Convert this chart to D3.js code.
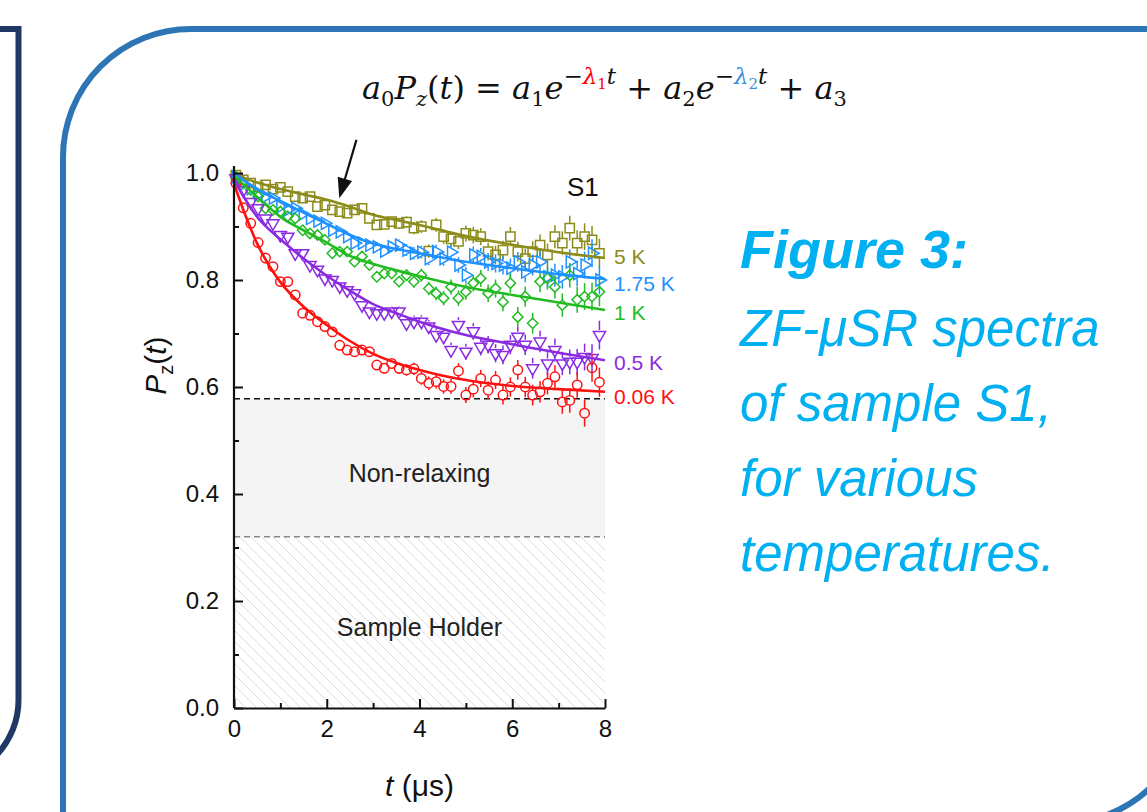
<!DOCTYPE html>
<html>
<head>
<meta charset="utf-8">
<script src="https://cdn.jsdelivr.net/npm/d3@7"></script>
<style>
  body { margin: 0; background: #fff; }
  svg { display: block; }
  text { font-family: "Liberation Sans", Arial, sans-serif; }
</style>
</head>
<body>
<svg width="1147" height="812"></svg>
<script>
// time bins (microseconds)
var times = [0.04,0.2,0.36,0.52,0.68,0.84,1.0,1.16,1.32,1.48,1.64,1.8,1.96,2.12,2.28,2.44,2.6,2.76,2.92,3.08,
  3.24,3.4,3.56,3.72,3.88,4.04,4.2,4.36,4.52,4.68,4.84,5.0,5.16,5.32,5.48,5.64,5.8,5.96,6.12,6.28,
  6.44,6.6,6.76,6.92,7.08,7.24,7.4,7.56,7.72,7.88];

// error bar half-widths, shared by the spectra
var errors = [0.003,0.003,0.0035,0.0035,0.004,0.004,0.0045,0.0045,0.005,0.005,0.0055,0.0055,0.006,0.006,0.0065,0.007,0.0075,0.008,0.0085,0.009,
  0.0095,0.010,0.0105,0.011,0.0115,0.012,0.0125,0.013,0.0135,0.014,0.0145,0.015,0.0155,0.016,0.0165,0.017,0.0175,0.018,0.0185,0.019,
  0.0195,0.020,0.021,0.0215,0.022,0.023,0.024,0.025,0.026,0.027];

var pz5K = [0.996,0.987,0.981,0.974,0.978,0.970,0.973,0.965,0.956,0.953,0.956,0.937,0.940,0.931,0.928,0.925,0.931,
  0.934,0.915,0.903,0.904,0.909,0.906,0.908,0.897,0.900,0.854,0.903,0.881,0.877,0.872,0.887,0.884,0.881,
  0.853,0.847,0.856,0.881,0.853,0.840,0.853,0.865,0.847,0.881,0.869,0.897,0.869,0.881,0.875,0.850];
var pz175K = [0.993,0.979,0.971,0.960,0.956,0.953,0.937,0.931,0.934,0.923,0.915,0.910,0.906,0.893,0.890,0.881,0.869,
  0.869,0.865,0.862,0.854,0.862,0.865,0.856,0.850,0.852,0.840,0.853,0.840,0.852,0.828,0.809,0.847,0.844,
  0.834,0.831,0.828,0.822,0.834,0.815,0.828,0.834,0.806,0.809,0.806,0.834,0.812,0.828,0.850,0.800];
var pz1K = [0.993,0.981,0.968,0.956,0.934,0.931,0.928,0.919,0.915,0.893,0.887,0.884,0.875,0.850,0.853,0.853,0.834,
  0.844,0.828,0.806,0.812,0.812,0.797,0.809,0.797,0.809,0.784,0.775,0.766,0.787,0.766,0.778,0.794,0.803,
  0.775,0.784,0.759,0.794,0.731,0.769,0.719,0.797,0.803,0.787,0.753,0.809,0.763,0.769,0.769,0.778];
var pz05K = [0.990,0.968,0.946,0.934,0.915,0.906,0.884,0.881,0.850,0.850,0.828,0.819,0.803,0.800,0.788,0.781,0.775,
  0.753,0.741,0.738,0.738,0.741,0.741,0.719,0.722,0.722,0.713,0.697,0.694,0.669,0.716,0.666,0.704,0.675,
  0.679,0.663,0.660,0.679,0.694,0.679,0.635,0.685,0.644,0.669,0.644,0.647,0.647,0.656,0.654,0.697];
var pz006K = [0.981,0.935,0.906,0.870,0.841,0.825,0.797,0.797,0.772,0.738,0.734,0.722,0.713,0.703,0.678,0.669,0.666,
  0.669,0.666,0.641,0.635,0.644,0.635,0.632,0.634,0.616,0.607,0.610,0.601,0.601,0.630,0.585,0.596,0.616,
  0.594,0.613,0.585,0.600,0.632,0.600,0.585,0.591,0.607,0.619,0.572,0.575,0.604,0.551,0.636,0.609];

var fitTimes = [0,0.25,0.5,0.75,1,1.5,2,2.5,3,3.5,4,5,6,7,8];
var fit5K   = [1.0,0.990,0.982,0.976,0.970,0.960,0.950,0.937,0.922,0.912,0.903,0.882,0.866,0.852,0.841];
var fit175K = [1.0,0.984,0.970,0.958,0.948,0.926,0.905,0.884,0.868,0.858,0.850,0.834,0.822,0.811,0.802];
var fit1K   = [0.995,0.975,0.955,0.936,0.918,0.893,0.870,0.845,0.830,0.818,0.807,0.787,0.772,0.758,0.744];
var fit05K  = [0.99,0.950,0.918,0.895,0.876,0.840,0.808,0.780,0.755,0.738,0.722,0.697,0.680,0.664,0.650];
var fit006K = [0.98,0.920,0.868,0.828,0.796,0.750,0.716,0.686,0.662,0.645,0.632,0.613,0.602,0.596,0.591];

var temps = ["5 K", "1.75 K", "1 K", "0.5 K", "0.06 K"];
var spectra = [pz5K, pz175K, pz1K, pz05K, pz006K];
var fits = [fit5K, fit175K, fit1K, fit05K, fit006K];

var nonRelaxing = 0.578, holder = 0.32;
var yTicks = [0, 0.2, 0.4, 0.6, 0.8, 1.0];
var xTicks = [0, 2, 4, 6, 8];

var colors = ["#8c8c1a", "#1e90ff", "#22bb22", "#8a2be2", "#ff1010"];
var shapes = [d3.symbolSquare, d3.symbolTriangle, d3.symbolDiamond2 || d3.symbolDiamond, d3.symbolTriangle, d3.symbolCircle];
var sizes = [85, 64, 68, 64, 70];
var rotations = [0, 90, 0, 180, 0];
var labelNudge = [6, 12, 10, 10, 12];   // baseline offset of the end labels, px

var svg = d3.select("svg");

// slide frames
svg.append("path")
    .attr("d", "M -10 29 H 18.5 V 700 A 80 80 0 0 1 -61.5 780")
    .attr("fill", "none").attr("stroke", "#1f3864").attr("stroke-width", 6);
svg.append("path")
    .attr("d", "M 63 830 V 157 A 128 128 0 0 1 191 29 H 1190 V 695 A 128 128 0 0 1 1056 823 Z")
    .attr("fill", "none").attr("stroke", "#2e75b6").attr("stroke-width", 6);

// caption
var cap = svg.append("g")
    .style("font-family", "Lato, 'Open Sans', sans-serif")
    .style("font-style", "italic")
    .style("font-size", "51px")
    .attr("fill", "#00b0f0");
cap.append("text").attr("x", 740).attr("y", 268).style("font-weight", "bold").style("font-size", "54px").text("Figure 3:");
["ZF-μSR spectra", "of sample S1,", "for various", "temperatures."].forEach(function(s, i) {
  cap.append("text").attr("x", 740).attr("y", 346 + i * 75).text(s);
});

// equation
var eq = [
  {s: "a", it: 1}, {s: "0", lv: "sub"}, {s: "P", it: 1}, {s: "z", it: 1, lv: "sub"}, {s: "("}, {s: "t", it: 1}, {s: ")"},
  {s: " = "}, {s: "a", it: 1}, {s: "1", lv: "sub"}, {s: "e", it: 1}, {s: "−", lv: "sup"},
  {s: "λ", it: 1, lv: "sup", c: "#ff0000"}, {s: "1", lv: "supsub", c: "#ff0000"}, {s: "t", it: 1, lv: "sup"},
  {s: " + "}, {s: "a", it: 1}, {s: "2", lv: "sub"}, {s: "e", it: 1}, {s: "−", lv: "sup"},
  {s: "λ", it: 1, lv: "sup", c: "#3a8fd8"}, {s: "2", lv: "supsub", c: "#3a8fd8"}, {s: "t", it: 1, lv: "sup"},
  {s: " + "}, {s: "a", it: 1}, {s: "3", lv: "sub"}
];
var levels = {base: [0, 32], sub: [7, 21], sup: [-15, 23], supsub: [-10, 15]};
var eqText = svg.append("text")
    .attr("x", 362).attr("y", 99)
    .style("font-family", "'DejaVu Serif', 'Liberation Serif', serif")
    .style("white-space", "pre")
    .attr("fill", "#111");
var prev = 0;
eq.forEach(function(p) {
  var lv = levels[p.lv || "base"];
  eqText.append("tspan")
      .attr("dy", lv[0] - prev)
      .style("font-size", lv[1] + "px")
      .style("font-style", p.it ? "italic" : "normal")
      .attr("fill", p.c || "#111")
      .text(p.s);
  prev = lv[0];
});

// plot
var x = d3.scaleLinear().domain([0, 8]).range([234, 605]);
var y = d3.scaleLinear().domain([0, 1]).range([708, 173]);

var defs = svg.append("defs");
var pat = defs.append("pattern").attr("id", "hatch")
    .attr("patternUnits", "userSpaceOnUse").attr("width", 11).attr("height", 11);
pat.append("path").attr("d", "M -1 -1 L 12 12 M -6.5 4.5 L 6.5 17.5 M 4.5 -6.5 L 17.5 6.5")
    .attr("stroke", "#d2d2d2").attr("stroke-width", 0.8);

svg.append("rect")
    .attr("x", x(0)).attr("width", x(8) - x(0))
    .attr("y", y(nonRelaxing)).attr("height", y(holder) - y(nonRelaxing))
    .attr("fill", "#f4f4f4");
svg.append("rect")
    .attr("x", x(0)).attr("width", x(8) - x(0))
    .attr("y", y(holder)).attr("height", y(0) - y(holder))
    .attr("fill", "url(#hatch)");

svg.append("line")
    .attr("x1", x(0)).attr("x2", x(8)).attr("y1", y(nonRelaxing)).attr("y2", y(nonRelaxing))
    .attr("stroke", "#111").attr("stroke-width", 1.5).attr("stroke-dasharray", "6,4");
svg.append("line")
    .attr("x1", x(0)).attr("x2", x(8)).attr("y1", y(holder)).attr("y2", y(holder))
    .attr("stroke", "#888").attr("stroke-width", 1.5).attr("stroke-dasharray", "6,4");

svg.append("text").attr("x", x(4.0)).attr("y", y((nonRelaxing + holder) / 2) + 14)
    .attr("text-anchor", "middle").style("font-size", "25px").attr("fill", "#222").text("Non-relaxing");
svg.append("text").attr("x", x(4.0)).attr("y", y(holder / 2) + 14)
    .attr("text-anchor", "middle").style("font-size", "25px").attr("fill", "#222").text("Sample Holder");

// data
var r = 5;
spectra.forEach(function(vals, k) {
  var g = svg.append("g").attr("stroke", colors[k]).attr("fill", "none").attr("stroke-width", 1.5);
  var pts = vals.map(function(v, i) { return {t: times[i], v: v, e: errors[i]}; });
  pts.forEach(function(d) {
    var cx = x(d.t), cy = y(d.v), ep = y(d.v - d.e) - cy;
    if (ep > r) {
      g.append("line").attr("x1", cx).attr("x2", cx).attr("y1", cy - ep).attr("y2", cy - r);
      g.append("line").attr("x1", cx).attr("x2", cx).attr("y1", cy + r).attr("y2", cy + ep);
    }
  });
  g.selectAll("path.pt").data(pts).enter().append("path")
      .attr("class", "pt")
      .attr("d", d3.symbol().type(shapes[k]).size(sizes[k]))
      .attr("transform", function(d) { return "translate(" + x(d.t) + "," + y(d.v) + ") rotate(" + rotations[k] + ")"; });
});

var line = d3.line()
    .x(function(d, i) { return x(fitTimes[i]); })
    .y(function(d) { return y(d); })
    .curve(d3.curveMonotoneX);
fits.forEach(function(f, k) {
  svg.append("path").attr("d", line(f))
      .attr("fill", "none").attr("stroke", colors[k]).attr("stroke-width", 2.6);
  svg.append("text")
      .attr("x", x(8) + 9).attr("y", y(f[f.length - 1]) + labelNudge[k])
      .style("font-size", "21px").attr("fill", colors[k]).text(temps[k]);
});

svg.append("text").attr("x", 567).attr("y", 196).style("font-size", "26px").attr("fill", "#111").text("S1");

// arrow pointing to the fit
var tail = [x(2.64), y(1.062)], tip = [x(2.27), y(0.953)];
var dx = tip[0] - tail[0], dy = tip[1] - tail[1], len = Math.sqrt(dx * dx + dy * dy);
var ux = dx / len, uy = dy / len;
var bx = tip[0] - 20 * ux, by = tip[1] - 20 * uy;
svg.append("line").attr("x1", tail[0]).attr("y1", tail[1]).attr("x2", bx).attr("y2", by)
    .attr("stroke", "#111").attr("stroke-width", 2.2);
svg.append("path")
    .attr("d", "M" + tip[0] + "," + tip[1] + " L" + (bx - 7.5 * uy) + "," + (by + 7.5 * ux) + " L" + (bx + 7.5 * uy) + "," + (by - 7.5 * ux) + " Z")
    .attr("fill", "#111");

// axes
var yAxis = svg.append("g").attr("transform", "translate(" + x(0) + ",0)")
    .call(d3.axisLeft(y).tickValues(yTicks).tickFormat(d3.format(".1f")).tickSizeInner(-9).tickSizeOuter(0).tickPadding(15));
var yMinor = svg.append("g").attr("transform", "translate(" + x(0) + ",0)")
    .call(d3.axisLeft(y).tickValues([0.1, 0.3, 0.5, 0.7, 0.9]).tickFormat("").tickSizeInner(-5).tickSizeOuter(0));
var xAxis = svg.append("g").attr("transform", "translate(0," + y(0) + ")")
    .call(d3.axisBottom(x).tickValues(xTicks).tickFormat(d3.format("d")).tickSizeInner(-9).tickSizeOuter(0).tickPadding(12));
var xMinor = svg.append("g").attr("transform", "translate(0," + y(0) + ")")
    .call(d3.axisBottom(x).tickValues([1, 3, 5, 7]).tickFormat("").tickSizeInner(-5).tickSizeOuter(0));

[yAxis, yMinor, xAxis, xMinor].forEach(function(a) {
  a.selectAll("line").attr("stroke", "#111").attr("stroke-width", 2);
  a.selectAll(".domain").attr("stroke", "#111").attr("stroke-width", 2.2);
  a.selectAll("text").style("font-family", "'Liberation Sans', Arial, sans-serif").style("font-size", "24px").attr("fill", "#111");
});
yAxis.select(".domain").attr("d", "M0," + y(0) + "V" + y(1.013));
yMinor.select(".domain").remove();
xMinor.select(".domain").remove();

// axis titles
var yl = svg.append("text").attr("transform", "translate(166," + y(0.64) + ") rotate(-90)")
    .attr("text-anchor", "middle").style("font-size", "30px").attr("fill", "#111");
yl.append("tspan").style("font-style", "italic").text("P");
yl.append("tspan").attr("dy", 7).style("font-size", "20px").text("z");
yl.append("tspan").attr("dy", -7).text("(");
yl.append("tspan").style("font-style", "italic").text("t");
yl.append("tspan").text(")");

var xl = svg.append("text").attr("x", x(4.0)).attr("y", 796)
    .attr("text-anchor", "middle").style("font-size", "30px").attr("fill", "#111");
xl.append("tspan").style("font-style", "italic").text("t");
xl.append("tspan").text(" (μs)");
</script>
</body>
</html>
